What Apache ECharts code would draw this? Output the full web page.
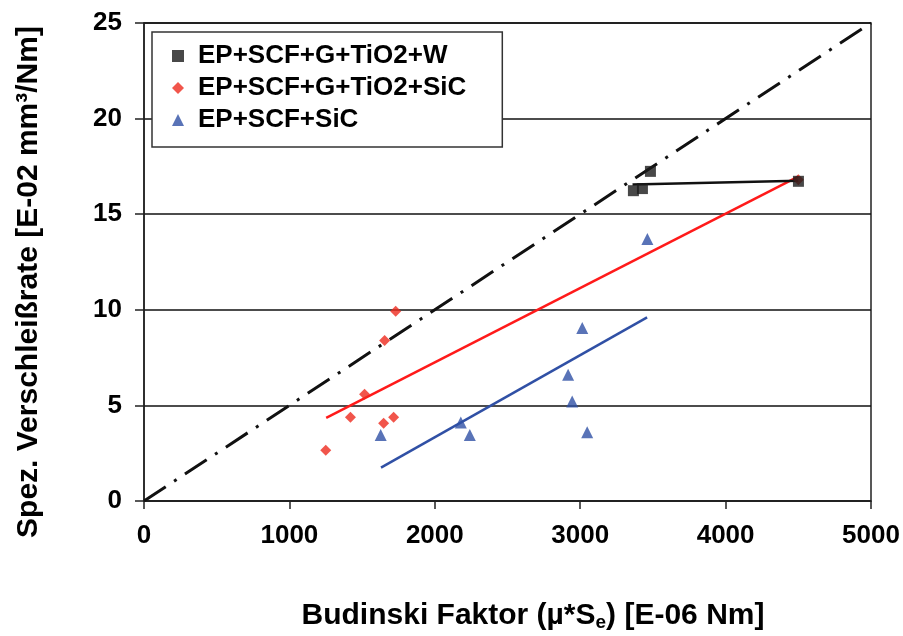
<!DOCTYPE html>
<html>
<head>
<meta charset="utf-8">
<script src="https://cdn.jsdelivr.net/npm/echarts@6/dist/echarts.min.js"></script>
<style>
  html, body { margin: 0; padding: 0; background: #fff; }
  #chart { width: 903px; height: 636px; }
</style>
</head>
<body>
<div id="chart"></div>
<script>
// Series names
const seriesNames = ['EP+SCF+G+TiO2+W', 'EP+SCF+G+TiO2+SiC', 'EP+SCF+SiC'];

// Measured points: Budinski factor (x) vs. specific wear rate (y)
const wX = [3366, 3428, 3483, 4501];
const wY = [16.23, 16.34, 17.24, 16.72];

const sicX = [1250, 1420, 1517, 1648, 1717, 1655, 1731, 4500];
const sicY = [2.65, 4.38, 5.58, 4.07, 4.38, 8.4, 9.92, 16.8];

const scfX = [1628, 2179, 2241, 2917, 2945, 3014, 3048, 3462];
const scfY = [3.45, 4.1, 3.45, 6.6, 5.2, 9.05, 3.6, 13.7];

// Linear trend lines (end points)
const wFitX = [3360, 4500];
const wFitY = [16.55, 16.75];
const sicFitX = [1253, 4499];
const sicFitY = [4.35, 16.96];
const scfFitX = [1630, 3460];
const scfFitY = [1.75, 9.6];

// Reference diagonal y = x / 200
const diagX = [0, 5000];
const diagY = [0, 25];

// Axis ranges
const xRange = { min: 0, max: 5000, step: 1000 };
const yRange = { min: 0, max: 25, step: 5 };

const zip = (xs, ys) => xs.map((x, i) => [x, ys[i]]);

const FONT = 'Liberation Sans, Arial, sans-serif';
const chart = echarts.init(document.getElementById('chart'), null, { renderer: 'canvas' });

chart.setOption({
  backgroundColor: '#ffffff',
  animation: false,
  textStyle: { fontFamily: FONT },
  grid: {
    left: 144, top: 23, right: 32, bottom: 135,
    show: true, borderColor: '#222', borderWidth: 1.5,
    containLabel: false
  },
  legend: {
    orient: 'vertical',
    left: 152, top: 32,
    padding: [11, 36, 14, 20],
    itemGap: 6,
    itemWidth: 12, itemHeight: 12,
    borderColor: '#333', borderWidth: 1.5,
    backgroundColor: '#fff',
    data: seriesNames,
    textStyle: {
      fontFamily: FONT, fontWeight: 'bold', fontSize: 26, color: '#000',
      lineHeight: 26, padding: [0, 0, 0, 9]
    }
  },
  xAxis: {
    type: 'value',
    min: xRange.min, max: xRange.max, interval: xRange.step,
    axisLine: { show: true, onZero: false, lineStyle: { color: '#222', width: 1.5 } },
    axisTick: { show: true, inside: false, length: 8, lineStyle: { color: '#222', width: 1.5 } },
    axisLabel: {
      margin: 22, fontFamily: FONT, fontWeight: 'bold', fontSize: 26, color: '#000',
      formatter: v => String(v)
    },
    splitLine: { show: false }
  },
  yAxis: {
    type: 'value',
    min: yRange.min, max: yRange.max, interval: yRange.step,
    axisLine: { show: true, onZero: false, lineStyle: { color: '#222', width: 1.5 } },
    axisTick: { show: true, inside: false, length: 9, lineStyle: { color: '#222', width: 1.5 } },
    axisLabel: {
      margin: 22, fontFamily: FONT, fontWeight: 'bold', fontSize: 26, color: '#000',
      formatter: v => String(v)
    },
    splitLine: { show: true, lineStyle: { color: '#111', width: 1.5 } }
  },
  graphic: [
    {
      type: 'text', x: 29, y: 282, rotation: Math.PI / 2,
      style: {
        text: 'Spez. Verschleißrate [E-02 mm³/Nm]',
        font: 'bold 30px ' + FONT, fill: '#000',
        textAlign: 'center', textVerticalAlign: 'middle'
      }
    },
    {
      type: 'text', x: 533, y: 616,
      style: {
        text: 'Budinski Faktor (µ*S{sub|e}) [E-06 Nm]',
        font: 'bold 30px ' + FONT, fill: '#000',
        textAlign: 'center', textVerticalAlign: 'middle',
        rich: {
          sub: { font: 'bold 19px ' + FONT, fill: '#000', verticalAlign: 'bottom', padding: [14, 0, 0, 0] }
        }
      }
    }
  ],
  series: [
    {
      name: 'diagonal', type: 'line', data: zip(diagX, diagY),
      showSymbol: false, silent: true, z: 2,
      lineStyle: { color: '#111', width: 3, type: [26, 10, 3, 10] }
    },
    {
      name: 'fit-sic', type: 'line', data: zip(sicFitX, sicFitY),
      showSymbol: false, silent: true, z: 3,
      lineStyle: { color: '#ff1a1a', width: 2.5 }
    },
    {
      name: 'fit-scf', type: 'line', data: zip(scfFitX, scfFitY),
      showSymbol: false, silent: true, z: 3,
      lineStyle: { color: '#3050a5', width: 2.5 }
    },
    {
      name: 'fit-w', type: 'line', data: zip(wFitX, wFitY),
      showSymbol: false, silent: true, z: 3,
      lineStyle: { color: '#111', width: 2.5 }
    },
    {
      name: seriesNames[1], type: 'scatter', data: zip(sicX, sicY),
      symbol: 'diamond', symbolSize: 11, z: 4,
      itemStyle: { color: '#ee2a1e' }
    },
    {
      name: seriesNames[2], type: 'scatter', data: zip(scfX, scfY),
      symbol: 'triangle', symbolSize: 12, z: 4,
      itemStyle: { color: '#3050a5' }
    },
    {
      name: seriesNames[0], type: 'scatter', data: zip(wX, wY),
      symbol: 'rect', symbolSize: 11, z: 5,
      itemStyle: { color: '#1a1a1a' }
    }
  ]
});
</script>
</body>
</html>
